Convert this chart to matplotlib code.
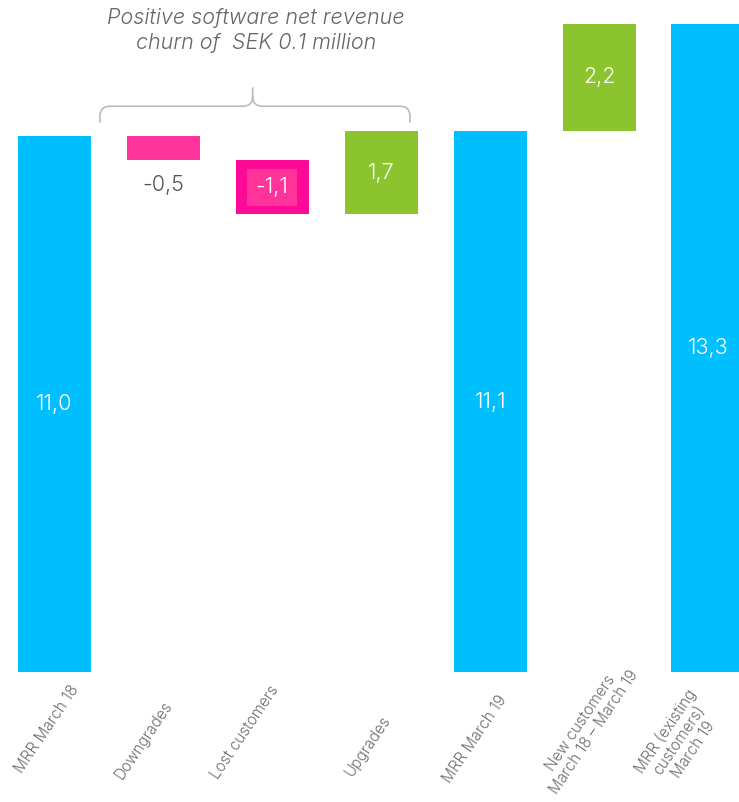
import matplotlib.pyplot as plt
from matplotlib.path import Path
from matplotlib.patches import PathPatch
import matplotlib.transforms as mtransforms

plt.rcParams['font.family'] = ['Inter', 'DejaVu Sans']
plt.rcParams['font.weight'] = 300

categories = ["MRR March 18", "Downgrades", "Lost customers", "Upgrades",
              "MRR March 19", "New customers\nMarch 18 \u2013 March 19",
              "MRR (existing\ncustomers)\nMarch 19"]
values = [11.0, -0.5, -1.1, 1.7, 11.1, 2.2, 13.3]
is_total = [True, False, False, False, True, False, True]
value_labels = ["11,0", "-0,5", "-1,1", "1,7", "11,1", "2,2", "13,3"]
title = "Positive software net revenue\nchurn of  SEK 0.1 million"

BLUE = '#00BFFF'
PINK = '#FF3399'
MAGENTA = '#FF0A96'
GREEN = '#8BC42E'
colors = [BLUE, PINK, MAGENTA, GREEN, BLUE, GREEN, BLUE]

# where each rotated category label's top-right corner sits (px from bar centre / baseline)
label_shift = [(27, 10), (12, 26), (9, 11), (12, 41), (20, 21), (42, -14), (19, 14)]

# waterfall bottoms / heights
bottoms, heights = [], []
running = 0.0
for v, tot in zip(values, is_total):
    if tot:
        bottoms.append(0.0)
        heights.append(v)
        running = v
    else:
        bottoms.append(running + min(v, 0))
        heights.append(abs(v))
        running += v

fig = plt.figure(figsize=(7.39, 8.02), dpi=100)
ax = fig.add_axes([0, 130 / 802, 1, 672 / 802])
x = list(range(len(values)))
ax.bar(x, heights, bottom=bottoms, width=0.67, color=colors)
ax.set_xlim(-0.5, 6.285)
ax.set_ylim(0, 13.79)

for i, (b, h, lab) in enumerate(zip(bottoms, heights, value_labels)):
    if i == 1:
        ax.text(i, b - 0.3, lab, ha='center', va='top', fontsize=15.5,
                color='#555555')
    elif i == 2:
        ax.text(i, b + h / 2, lab, ha='center', va='center', fontsize=15.5,
                color='white',
                bbox=dict(boxstyle='square,pad=0.4', fc=PINK, ec='none'))
    else:
        ax.text(i, b + h / 2, lab, ha='center', va='center', fontsize=15.5,
                color='white')

for s in ax.spines.values():
    s.set_visible(False)
ax.set_yticks([])
ax.set_xticks(x)
ax.set_xticklabels(categories, rotation=56, ha='right', va='top',
                   rotation_mode='default', fontsize=11, color='#6E6E6E',
                   multialignment='center', linespacing=1.15)
ax.tick_params(axis='x', length=0, pad=0)
for t, (dx, dy) in zip(ax.get_xticklabels(), label_shift):
    off = mtransforms.ScaledTranslation(dx / 100, -dy / 100, fig.dpi_scale_trans)
    t.set_transform(t.get_transform() + off)

# brace over the three churn bars
x0, xm, x1 = 0.418, 1.82, 3.264
y0, yh, ytip = 11.27, 11.61, 12.0
rx, ry = 0.09, 0.2
verts = [(x0, y0), (x0, yh - ry), (x0, yh), (x0 + rx, yh),
         (xm - rx, yh), (xm, yh), (xm, yh + ry), (xm, ytip),
         (xm, yh + ry), (xm, yh), (xm + rx, yh),
         (x1 - rx, yh), (x1, yh), (x1, yh - ry), (x1, y0)]
codes = [Path.MOVETO, Path.LINETO, Path.CURVE3, Path.CURVE3,
         Path.LINETO, Path.CURVE3, Path.CURVE3, Path.LINETO,
         Path.MOVETO, Path.CURVE3, Path.CURVE3,
         Path.LINETO, Path.CURVE3, Path.CURVE3, Path.LINETO]
ax.add_patch(PathPatch(Path(verts, codes), fc='none', ec='#BBBBBB', lw=1.2,
                       clip_on=False))

fig.text(256 / 739, 1 - 8 / 802, title, ha='center', va='top', fontsize=15.5,
         style='italic', color='#666666', linespacing=1.3)

fig.savefig('out.png', dpi=100)
